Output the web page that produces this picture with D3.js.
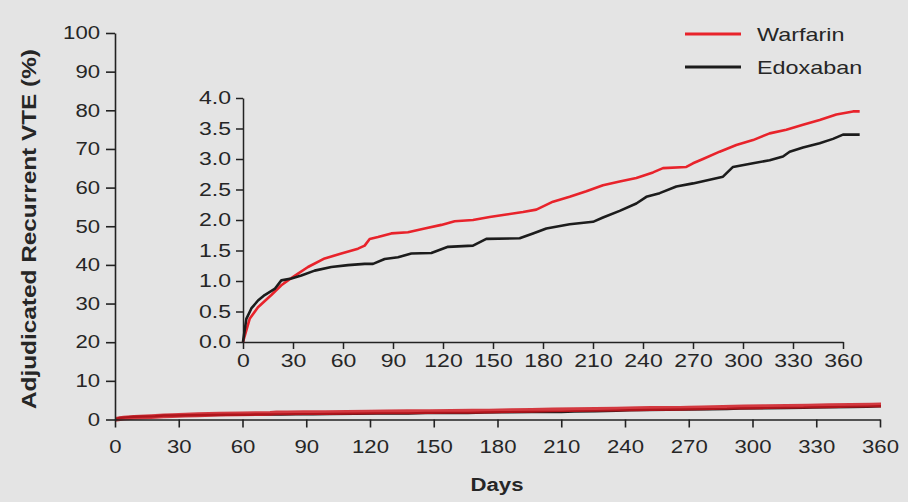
<!DOCTYPE html>
<html><head><meta charset="utf-8">
<script src="https://cdn.jsdelivr.net/npm/d3@7"></script>
<style>
html,body{margin:0;padding:0;background:#e4e4e4;}
svg{display:block;}
text{font-family:"Liberation Sans",Arial,Helvetica,sans-serif;fill:#262626;}
</style></head><body>
<script>
// ---- data ----
const warfarinDays = [0,4,9,17,23,27,33,39,49,59,69,73,76,81,89,99,109,119,127,138,148,158,168,176,186,196,206,216,226,236,246,252,266,270,276,286,296,306,316,326,336,346,356,366,370];
const warfarinPct  = [0,0.38,0.57,0.77,0.93,1.01,1.12,1.23,1.37,1.45,1.53,1.58,1.69,1.72,1.78,1.80,1.86,1.92,1.98,2.00,2.05,2.09,2.13,2.17,2.30,2.38,2.47,2.57,2.63,2.69,2.78,2.85,2.87,2.93,3.00,3.12,3.23,3.31,3.42,3.48,3.56,3.64,3.73,3.78,3.78];
const edoxabanDays = [0,2,5,9,13,19,23,29,35,43,53,63,73,78,85,93,101,113,123,138,146,166,174,182,196,210,216,226,236,242,250,260,270,280,288,294,306,316,324,328,336,346,354,360,370];
const edoxabanPct  = [0,0.38,0.55,0.68,0.77,0.87,1.01,1.04,1.09,1.17,1.23,1.26,1.28,1.28,1.36,1.39,1.45,1.46,1.56,1.58,1.69,1.70,1.78,1.86,1.93,1.97,2.04,2.15,2.27,2.38,2.44,2.55,2.60,2.66,2.71,2.87,2.93,2.98,3.04,3.12,3.19,3.26,3.33,3.40,3.40];
const seriesNames = ["Warfarin","Edoxaban"];
const seriesColors = ["#e8232b","#1c1c1c"];
const dayTicks = [0,30,60,90,120,150,180,210,240,270,300,330,360];
const mainPctTicks = [0,10,20,30,40,50,60,70,80,90,100];
const insetPctTicks = [0,0.5,1.0,1.5,2.0,2.5,3.0,3.5,4.0];

const W = 908, H = 502;
const svg = d3.select("body").append("svg").attr("width",W).attr("height",H);
svg.append("rect").attr("width",W).attr("height",H).attr("fill","#e4e4e4");

const warf = warfarinDays.map((d,i)=>({day:d,pct:warfarinPct[i]}));
const edox = edoxabanDays.map((d,i)=>({day:d,pct:edoxabanPct[i]}));

const SX = 1.23; // horizontal glyph stretch seen in the reference

function styleAxis(g, sw){
  g.select(".domain").attr("stroke","#222").attr("stroke-width",sw);
  g.selectAll(".tick line").attr("stroke","#222").attr("stroke-width",sw);
}

// ---- main chart ----
const x = d3.scaleLinear().domain([0,360]).range([115,880]);
const y = d3.scaleLinear().domain([0,100]).range([419.5,33]);

svg.append("clipPath").attr("id","mainClip").append("rect")
  .attr("x",x(0)).attr("y",0).attr("width",x(360)-x(0)+1).attr("height",H);

const lineMain = d3.line().x(d=>x(d.day)).y(d=>y(d.pct));
const mainLines = svg.append("g").attr("clip-path","url(#mainClip)");
mainLines.append("path").datum(edox).attr("d",lineMain)
  .attr("fill","none").attr("stroke",seriesColors[1]).attr("stroke-width",2.5);
mainLines.append("path").datum(warf).attr("d",lineMain)
  .attr("fill","none").attr("stroke","#d0141c").attr("stroke-opacity",0.82).attr("stroke-width",4.8);

const gx = svg.append("g").attr("transform",`translate(0,${y(0)})`)
  .call(d3.axisBottom(x).tickValues(dayTicks).tickSize(8).tickPadding(13).tickSizeOuter(0));
styleAxis(gx,1.6);
gx.selectAll(".tick text").attr("font-size",18).attr("transform",`scale(${SX},1)`).attr("fill","#262626");

const gy = svg.append("g").attr("transform",`translate(${x(0)},0)`)
  .call(d3.axisLeft(y).tickValues(mainPctTicks).tickSize(9).tickSizeOuter(0));
styleAxis(gy,1.6);
gy.selectAll(".tick text").attr("font-size",18).attr("x",-15/SX).attr("transform",`scale(${SX},1)`).attr("fill","#262626");

// axis titles
svg.append("text").attr("transform",`translate(${497},${491}) scale(${SX},1)`)
  .attr("text-anchor","middle").attr("font-size",18).attr("font-weight","bold").text("Days");
svg.append("text").attr("transform",`translate(36,229) rotate(-90)`)
  .attr("text-anchor","middle").attr("font-size",20).attr("font-weight","bold")
  .attr("textLength",360).attr("lengthAdjust","spacingAndGlyphs")
  .text("Adjudicated Recurrent VTE (%)");

// ---- inset ----
const SXi = 1.28;
const xi = d3.scaleLinear().domain([0,360]).range([243,843]);
const yi = d3.scaleLinear().domain([0,4]).range([342,98]);

const gxi = svg.append("g").attr("transform",`translate(0,${yi(0)})`)
  .call(d3.axisBottom(xi).tickValues(dayTicks).tickSize(7).tickPadding(5).tickSizeOuter(0));
styleAxis(gxi,1.5);
gxi.selectAll(".tick text").attr("font-size",18).attr("transform",`scale(${SXi},1)`).attr("fill","#262626");

const gyi = svg.append("g").attr("transform",`translate(${xi(0)},0)`)
  .call(d3.axisLeft(yi).tickValues(insetPctTicks).tickFormat(d3.format(".1f")).tickSize(7).tickSizeOuter(0));
styleAxis(gyi,1.5);
gyi.selectAll(".tick text").attr("font-size",18).attr("x",-12/SXi).attr("transform",`scale(${SXi},1)`).attr("fill","#262626");

const lineInset = d3.line().x(d=>xi(d.day)).y(d=>yi(d.pct));
svg.append("path").datum(warf).attr("d",lineInset)
  .attr("fill","none").attr("stroke",seriesColors[0]).attr("stroke-width",2.6).attr("stroke-linejoin","round");
svg.append("path").datum(edox).attr("d",lineInset)
  .attr("fill","none").attr("stroke",seriesColors[1]).attr("stroke-width",2.6).attr("stroke-linejoin","round");

// ---- legend ----
const legY = [34,67];
seriesNames.forEach((name,i)=>{
  svg.append("line").attr("x1",685).attr("x2",741).attr("y1",legY[i]).attr("y2",legY[i])
    .attr("stroke",seriesColors[i]).attr("stroke-width",3);
  svg.append("text").attr("transform",`translate(757,${legY[i]+7}) scale(${SX},1)`)
    .attr("font-size",19).text(name);
});
</script>
</body></html>
